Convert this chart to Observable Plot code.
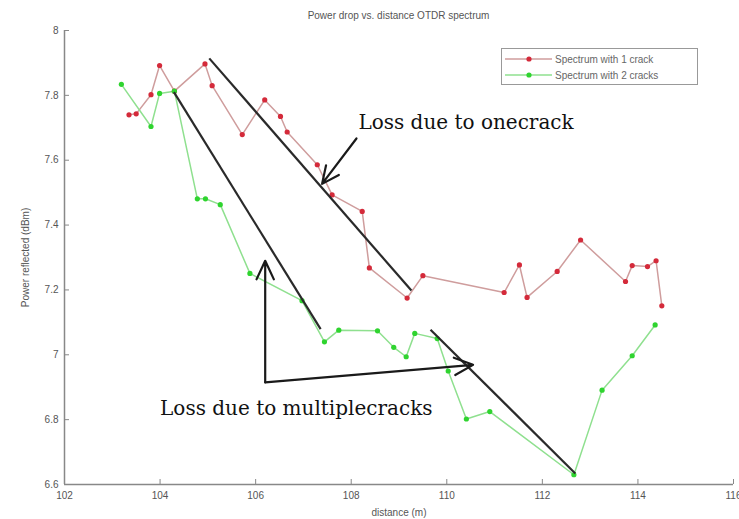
<!DOCTYPE html>
<html><head><meta charset="utf-8">
<script src="https://cdn.jsdelivr.net/npm/d3@7"></script>
<script src="https://cdn.jsdelivr.net/npm/@observablehq/plot@0.6"></script>
<style>
body{margin:0;background:#fff;}
#wrap{position:relative;width:739px;height:519px;font-family:"Liberation Sans",Arial,sans-serif;}
#title{position:absolute;left:64px;width:669px;top:10px;text-align:center;font-size:10px;color:#555;}
#legend{position:absolute;left:501px;top:48px;width:197px;height:37px;border:1px solid #999;box-sizing:border-box;background:#fff;font-size:10px;color:#666;}
.row{position:absolute;left:0;height:14px;display:flex;align-items:center;}
.row svg{margin-left:3px;margin-right:3px;}
</style>
</head><body>
<div id="wrap"></div>
<script>
// Series: Spectrum with 1 crack
const red_x = [103.35, 103.5, 103.81, 103.99, 104.3, 104.94, 105.09, 105.72, 106.19, 106.52, 106.66, 107.29, 107.6, 108.23, 108.38, 109.17, 109.5, 111.2, 111.52, 111.68, 112.31, 112.8, 113.74, 113.88, 114.2, 114.38, 114.5];
const red_y = [7.74, 7.743, 7.802, 7.892, 7.813, 7.897, 7.83, 7.679, 7.786, 7.735, 7.687, 7.586, 7.493, 7.442, 7.268, 7.175, 7.244, 7.192, 7.277, 7.177, 7.257, 7.354, 7.226, 7.275, 7.272, 7.29, 7.151];
// Series: Spectrum with 2 cracks
const green_x = [103.19, 103.81, 103.99, 104.3, 104.78, 104.95, 105.26, 105.88, 106.97, 107.44, 107.74, 108.55, 108.89, 109.15, 109.33, 109.8, 110.03, 110.41, 110.9, 112.66, 113.25, 113.88, 114.36];
const green_y = [7.834, 7.704, 7.806, 7.813, 7.481, 7.481, 7.463, 7.251, 7.167, 7.04, 7.076, 7.074, 7.023, 6.994, 7.066, 7.05, 6.95, 6.802, 6.825, 6.63, 6.891, 6.997, 7.092];
// Axis ticks
const x_ticks = [102, 104, 106, 108, 110, 112, 114, 116];
const y_ticks = [6.6, 6.8, 7, 7.2, 7.4, 7.6, 7.8, 8];
// Annotation lines (hand drawn loss slopes)
const slope_x1 = [105.03, 104.29, 109.66];
const slope_y1 = [7.914, 7.81, 7.077];
const slope_x2 = [109.26, 107.36, 112.69];
const slope_y2 = [7.198, 7.079, 6.634];
// Annotation arrows
const arrow_x1 = [108.11, 106.2, 106.2];
const arrow_y1 = [7.667, 6.915, 6.915];
const arrow_x2 = [107.39, 106.2, 110.55];
const arrow_y2 = [7.527, 7.29, 6.969];
// Annotation texts
const note_x = [108.15, 104.0];
const note_y = [7.716, 6.833];
const note_text = ["Loss due to onecrack", "Loss due to multiplecracks"];

const red = red_x.map((x, i) => ({x, y: red_y[i]}));
const green = green_x.map((x, i) => ({x, y: green_y[i]}));
const slopes = slope_x1.map((x, i) => ({x1: x, y1: slope_y1[i], x2: slope_x2[i], y2: slope_y2[i]}));
const arrows = arrow_x1.map((x, i) => ({x1: x, y1: arrow_y1[i], x2: arrow_x2[i], y2: arrow_y2[i]}));
const notes = note_x.map((x, i) => ({x, y: note_y[i], t: note_text[i]}));

const fmt = d => String(+(+d).toFixed(1));

const chart = Plot.plot({
  width: 739, height: 519,
  marginLeft: 64, marginRight: 6, marginTop: 30, marginBottom: 35,
  x: {domain: [102, 116]},
  y: {domain: [6.6, 8]},
  style: {fontFamily: "Liberation Sans, Arial, sans-serif", fontSize: "10px", color: "#555", background: "#fff"},
  marks: [
    Plot.ruleX([102], {stroke: "#888", strokeWidth: 1.5}),
    Plot.ruleY([6.6], {stroke: "#888", strokeWidth: 1.5}),
    Plot.axisX({ticks: x_ticks, tickSize: -5, tickPadding: 12, tickFormat: fmt, stroke: "#888", label: "distance (m)", labelAnchor: "center", labelOffset: 31, labelArrow: "none"}),
    Plot.axisY({ticks: y_ticks, tickSize: -5, tickPadding: 11, tickFormat: fmt, stroke: "#888", label: "Power reflected (dBm)", labelAnchor: "center", labelOffset: 43, labelArrow: "none", fontSize: 10}),
    Plot.line(red, {x: "x", y: "y", stroke: "#cf9d9d", strokeWidth: 1.5}),
    Plot.line(green, {x: "x", y: "y", stroke: "#8fe08f", strokeWidth: 1.5}),
    Plot.dot(red, {x: "x", y: "y", r: 2.6, fill: "#d42a3a", stroke: "none"}),
    Plot.dot(green, {x: "x", y: "y", r: 2.6, fill: "#2fd42f", stroke: "none"}),
    Plot.link(slopes, {x1: "x1", y1: "y1", x2: "x2", y2: "y2", stroke: "#2a2a2a", strokeWidth: 2.2}),
    Plot.arrow(arrows, {x1: "x1", y1: "y1", x2: "x2", y2: "y2", stroke: "#1a1a1a", strokeWidth: 2.2, headLength: 14, headAngle: 50}),
    Plot.text(notes, {x: "x", y: "y", text: "t", textAnchor: "start", fontFamily: "DejaVu Serif", fontSize: 20, fill: "#111"})
  ]
});

const wrap = document.getElementById("wrap");
wrap.appendChild(chart);
const title = document.createElement("div");
title.id = "title";
title.textContent = "Power drop vs. distance OTDR spectrum";
wrap.appendChild(title);
const legend = document.createElement("div");
legend.id = "legend";
legend.innerHTML = `
<div class="row" style="top:3px"><svg width="47" height="10"><line x1="0" y1="5" x2="47" y2="5" stroke="#cf9d9d" stroke-width="1.5"/><circle cx="24" cy="5" r="2.6" fill="#d42a3a"/></svg><span>Spectrum with 1 crack</span></div>
<div class="row" style="top:19px"><svg width="47" height="10"><line x1="0" y1="5" x2="47" y2="5" stroke="#8fe08f" stroke-width="1.5"/><circle cx="24" cy="5" r="2.6" fill="#2fd42f"/></svg><span>Spectrum with 2 cracks</span></div>`;
wrap.appendChild(legend);
</script>
</body></html>
